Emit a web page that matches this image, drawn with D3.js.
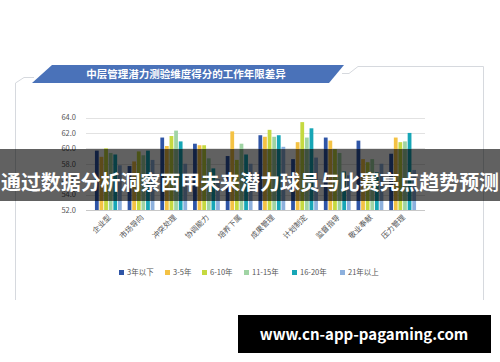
<!DOCTYPE html>
<html>
<head>
<meta charset="utf-8">
<script src="https://cdn.jsdelivr.net/npm/d3@7/dist/d3.min.js"></script>
<style>
  html, body { margin: 0; padding: 0; background: #fff; }
  svg { display: block; }
  text { font-family: "Noto Sans CJK SC", "Noto Sans", sans-serif; }
</style>
</head>
<body>
<svg id="chart" width="500" height="362"></svg>
<script>
const title = "中层管理潜力测验维度得分的工作年限差异";
const overlayText = "通过数据分析洞察西甲未来潜力球员与比赛亮点趋势预测";
const urlText = "www.cn-app-pagaming.com";
const categories = ["企业型", "市场导向", "冲突处理", "协调能力", "培养下属", "成果管理", "计划制定", "监督指导", "敬业奉献", "压力管理"];
const seriesNames = ["3年以下", "3-5年", "6-10年", "11-15年", "16-20年", "21年以上"];
const seriesColors = ["#2F55A6", "#F4C244", "#C5D940", "#A0D4A4", "#17A6B6", "#8DB0DD"];
const s3below = [59.7, 57.7, 61.4, 60.6, 59.0, 61.7, 58.6, 61.4, 61.0, 59.3];
const s3to5 = [58.9, 58.3, 60.3, 60.4, 62.2, 61.5, 60.8, 61.0, 58.6, 61.4];
const s6to10 = [60.0, 59.6, 61.6, 60.4, 58.5, 62.4, 63.4, 59.9, 58.2, 60.8];
const s11to15 = [59.4, 59.1, 62.3, 58.7, 60.6, 61.5, 61.4, 59.4, 58.6, 60.9];
const s16to20 = [59.2, 59.7, 60.9, 57.4, 59.2, 61.7, 62.6, 57.0, 56.9, 62.0];
const s21above = [57.8, 58.5, 58.0, 56.0, 58.0, 60.2, 58.8, 56.5, 58.0, 57.2];
const yTicks = [52, 54, 56, 58, 60, 62, 64];

const seriesValues = [s3below, s3to5, s6to10, s11to15, s16to20, s21above];

const svg = d3.select("#chart");

// frame
const frame = svg.append("g").attr("fill", "none").attr("stroke", "#d6d9de").attr("stroke-width", 1);
frame.append("path").attr("d", "M15.5,300 L15.5,83 L24,77.5 L34,77.5");
frame.append("path").attr("d", "M342,73.5 L349,73.5 L358,66.5 L483.5,66.5 L483.5,300");

// title banner
svg.append("path")
  .attr("d", "M52,65 L344,65 L329,83 L32,83 Z")
  .attr("fill", "#4A72B9");
svg.append("text")
  .attr("x", 186).attr("y", 78)
  .attr("text-anchor", "middle")
  .attr("fill", "#fff")
  .attr("font-size", 10.5)
  .attr("font-weight", "bold")
  .text(title);

const y = d3.scaleLinear().domain([52, 64]).range([210, 117.5]);
const x0 = d3.scaleBand().domain(categories).range([92, 419]).paddingInner(0.18).paddingOuter(0.09);
const x1 = d3.scaleBand().domain(seriesNames).range([0, x0.bandwidth()]).paddingInner(0.18);

// gridlines
svg.append("g").selectAll("line").data(yTicks).join("line")
  .attr("x1", 86).attr("x2", 425)
  .attr("y1", d => Math.round(y(d)) + 0.5).attr("y2", d => Math.round(y(d)) + 0.5)
  .attr("stroke", d => d === 52 ? "#c8c8c8" : "#e2e2e2");

// y labels
const yAxis = d3.axisLeft(y).tickValues(yTicks).tickFormat(d3.format(".1f")).tickSize(0).tickPadding(0);
const yg = svg.append("g").attr("transform", "translate(76,0)").call(yAxis);
yg.select(".domain").remove();
yg.selectAll("text").attr("font-size", 7.5).attr("fill", "#555").attr("font-family", "Liberation Sans, Arial, sans-serif");

// bars
const groups = svg.append("g").selectAll("g").data(categories).join("g")
  .attr("transform", d => `translate(${x0(d)},0)`);
groups.selectAll("rect")
  .data((c, i) => seriesNames.map((s, j) => ({ s, v: seriesValues[j][i], c: seriesColors[j] })))
  .join("rect")
  .attr("x", d => x1(d.s))
  .attr("width", x1.bandwidth())
  .attr("y", d => y(d.v))
  .attr("height", d => y(52) - y(d.v))
  .attr("fill", d => d.c);

// x labels
svg.append("g").selectAll("text").data(categories).join("text")
  .attr("transform", d => `translate(${x0(d) + x0.bandwidth() / 2 + 3},218) rotate(-45)`)
  .attr("text-anchor", "end")
  .attr("font-size", 7.5)
  .attr("fill", "#555")
  .text(d => d);

// legend
const legendX = [119, 165, 202, 244, 292, 340];
const lg = svg.append("g").selectAll("g").data(seriesNames).join("g")
  .attr("transform", (d, i) => `translate(${legendX[i]},270)`);
lg.append("rect").attr("width", 5).attr("height", 5).attr("fill", (d, i) => seriesColors[i]);
lg.append("text").attr("x", 8).attr("y", 5).attr("font-size", 7.5).attr("fill", "#555").text(d => d);

// overlay band
svg.append("rect").attr("x", 0).attr("y", 149).attr("width", 500).attr("height", 52)
  .attr("fill", "#000").attr("opacity", 0.62);
svg.append("text")
  .attr("x", 250).attr("y", 190)
  .attr("text-anchor", "middle")
  .attr("fill", "#fff")
  .attr("font-size", 20)
  .attr("font-weight", "bold")
  .attr("textLength", 498)
  .attr("lengthAdjust", "spacingAndGlyphs")
  .text(overlayText);

// url box
svg.append("rect").attr("x", 238).attr("y", 315).attr("width", 253).attr("height", 38).attr("fill", "#000");
svg.append("text")
  .attr("x", 364).attr("y", 339.5)
  .attr("text-anchor", "middle")
  .attr("fill", "#fff")
  .attr("font-size", 15)
  .attr("font-weight", "bold")
  .attr("font-family", "Open Sans, DejaVu Sans, sans-serif")
  .text(urlText);
</script>
</body>
</html>
